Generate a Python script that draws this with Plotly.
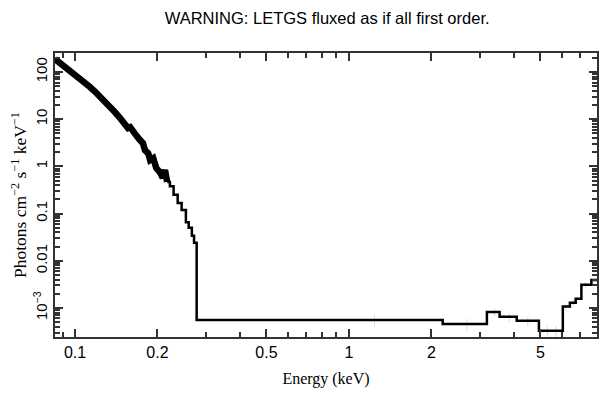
import numpy as np
import plotly.graph_objects as go

# Dense low-energy part of the spectrum (keV, photons cm^-2 s^-1 keV^-1)
dense_E = [0.0845, 0.0870, 0.0897, 0.0925, 0.0959, 0.1000, 0.1043, 0.1090, 0.1134, 0.1180,
           0.1230, 0.1285, 0.1340, 0.1400, 0.1460, 0.1510, 0.1560, 0.1590, 0.1630, 0.1680,
           0.1720, 0.1770, 0.1800, 0.1850, 0.1880, 0.1930, 0.1980, 0.2040, 0.2090, 0.2130,
           0.2170]
dense_F = [188, 165, 148, 128, 110, 92, 75, 60, 48, 39,
           31, 24, 18, 14, 10.6, 8.4, 6.5, 6.8, 5.3, 4.4,
           3.7, 3.1, 2.2, 1.9, 1.37, 1.5, 0.92, 0.76, 0.57, 0.84,
           0.47]

# Binned (step) part of the spectrum: bin lower edges and values
step_E = [0.217, 0.222, 0.229, 0.237, 0.245, 0.254, 0.260, 0.267, 0.272, 0.278,
          2.20, 3.19, 3.55, 4.10, 4.94, 6.04, 6.41, 6.73, 7.06, 7.68, 8.10]
step_F = [0.47, 0.38, 0.25, 0.168, 0.12, 0.066, 0.05, 0.034, 0.024, 5.6e-4,
          4.6e-4, 8.2e-4, 6.5e-4, 5.4e-4, 3.3e-4, 1.07e-3, 1.3e-3, 1.57e-3, 3.1e-3, 3.9e-3, 3.9e-3]

# Faint underlying data points with error bars
err_E = [1.24, 2.70, 3.40, 3.85, 4.50, 5.30, 5.70, 6.20, 6.60, 7.30]
err_F = [5.6e-4, 4.6e-4, 8.2e-4, 6.5e-4, 5.4e-4, 3.3e-4, 3.3e-4, 1.07e-3, 1.3e-3, 3.1e-3]
err_hi = [1.5e-4, 1.3e-4, 1.6e-4, 1.4e-4, 1.3e-4, 1.0e-4, 1.0e-4, 2.0e-4, 2.5e-4, 5.0e-4]

x_ticks = [0.1, 0.2, 0.5, 1, 2, 5]
x_ticklabels = ["0.1", "0.2", "0.5", "1", "2", "5"]
y_ticks = [1e-3, 1e-2, 1e-1, 1, 10, 100]
y_ticklabels = ["10<sup>\u22123</sup>", "0.01", "0.1", "1", "10", "100"]

x_minor = [0.09, 0.3, 0.4, 0.6, 0.7, 0.8, 0.9, 3, 4, 6, 7, 8]
y_minor = [m * 10.0 ** d for d in range(-4, 3) for m in range(2, 10)]

fig = go.Figure()
fig.add_trace(go.Scatter(
    x=err_E, y=err_F, mode="markers",
    marker=dict(size=1, color="rgba(0,0,0,0)"),
    error_y=dict(type="data", array=err_hi, color="#dddddd", thickness=1, width=0),
    error_x=dict(type="data", array=[e * 0.04 for e in err_E], color="#dddddd", thickness=1, width=0),
    showlegend=False, hoverinfo="skip"))
fig.add_trace(go.Scatter(x=dense_E, y=dense_F, mode="lines",
                         line=dict(color="black", width=6.5), showlegend=False))
fig.add_trace(go.Scatter(x=step_E, y=step_F, mode="lines",
                         line=dict(color="black", width=2.5, shape="hv"), showlegend=False))

axis_common = dict(
    type="log", showline=True, linecolor="#333333", linewidth=2, mirror="allticks",
    ticks="inside", tickcolor="#333333", tickwidth=1.5, showgrid=False, zeroline=False,
    automargin=False,
)

fig.update_xaxes(
    **axis_common,
    range=[np.log10(0.0845), np.log10(8.05)],
    tickvals=x_ticks, ticktext=x_ticklabels, ticklen=8,
    minor=dict(tickvals=x_minor, ticks="inside", ticklen=5, tickcolor="#333333", tickwidth=1.5, showgrid=False),
    tickfont=dict(family="Liberation Sans, Arial, sans-serif", size=16, color="black"),
    title=dict(text="Energy (keV)", font=dict(family="Liberation Serif, Times New Roman, serif", size=16, color="black"),
               standoff=13),
)
fig.update_yaxes(
    **axis_common,
    range=[np.log10(2.43e-4), np.log10(253)],
    tickvals=y_ticks, ticktext=y_ticklabels, ticklen=8, tickangle=-90,
    minor=dict(tickvals=y_minor, ticks="inside", ticklen=5, tickcolor="#333333", tickwidth=1.5, showgrid=False),
    tickfont=dict(family="Liberation Sans, Arial, sans-serif", size=15, color="black"),
    title=dict(text="Photons cm<sup>\u22122</sup> s<sup>\u22121</sup> keV<sup>\u22121</sup>",
               font=dict(family="Liberation Serif, Times New Roman, serif", size=17.5, color="black"),
               standoff=5),
)

# The page body adds an 8px offset, so the figure is sized to fit the window
fig.update_layout(
    width=601, height=391,
    margin=dict(l=47, r=12, t=45, b=62, autoexpand=False),
    paper_bgcolor="white", plot_bgcolor="white",
    title=dict(text="WARNING: LETGS fluxed as if all first order.",
               font=dict(family="Liberation Sans, Arial, sans-serif", size=16.5, color="black"),
               x=0.531, xanchor="center", y=0.974, yanchor="middle", automargin=False),
)

fig.write_html("out.html")
